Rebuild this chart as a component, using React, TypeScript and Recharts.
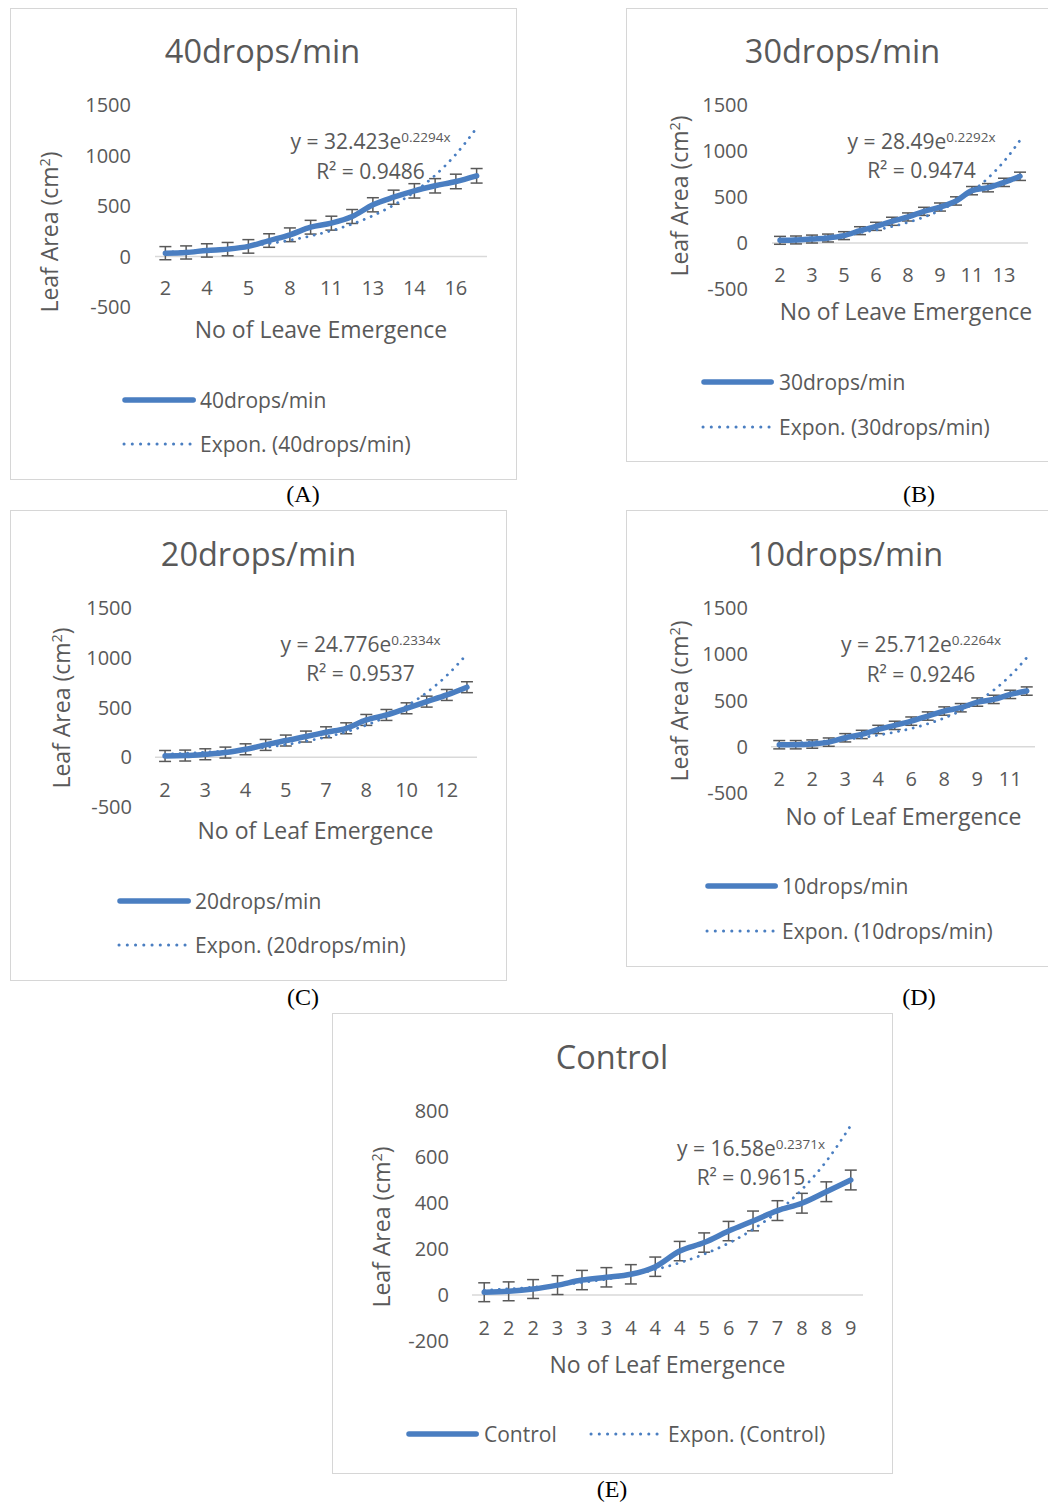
import React from 'react';
import { LineChart, Line, XAxis, YAxis, ErrorBar, ReferenceLine } from 'recharts';

// ---------- Data ----------
const labelsA = ['2', '3', '4', '4', '5', '7', '8', '10', '11', '12', '13', '13', '14', '15', '16', '17'];
const areaA = [33, 40, 60, 73, 100, 158, 215, 290, 330, 396, 512, 587, 650, 700, 743, 799];
const errA = [65, 65, 66, 66, 67, 67, 68, 68, 69, 69, 70, 70, 71, 71, 72, 72];
const trendA = [40.8, 51.3, 64.5, 81.2, 102.1, 128.4, 161.5, 203.1, 255.5, 321.3, 404.2, 508.4, 639.4, 804.3, 1011.6, 1272.4];

const labelsB = ['2', '3', '3', '4', '5', '5', '6', '7', '8', '8', '9', '10', '11', '12', '13', '14'];
const areaB = [29, 33, 43, 54, 80, 134, 181, 236, 283, 344, 391, 457, 569, 601, 659, 725];
const errB = [43, 43, 43, 43, 43, 43, 44, 44, 44, 44, 44, 45, 45, 45, 45, 45];
const trendB = [35.8, 45.1, 56.7, 71.3, 89.6, 112.7, 141.8, 178.3, 224.2, 282.0, 354.6, 446.0, 560.9, 705.4, 887.1, 1115.6];

const labelsC = ['2', '2', '3', '3', '4', '4', '5', '6', '7', '7', '8', '9', '10', '11', '12', '13'];
const areaC = [13, 17, 30, 47, 80, 124, 168, 208, 251, 291, 375, 425, 492, 559, 626, 704];
const errC = [55, 55, 55, 55, 55, 55, 55, 55, 55, 55, 55, 55, 55, 55, 55, 55];
const trendC = [31.3, 39.5, 49.9, 63.0, 79.6, 100.5, 126.9, 160.3, 202.4, 255.6, 322.8, 407.7, 514.9, 650.2, 821.2, 1037.1];

const labelsD = ['2', '2', '2', '3', '3', '4', '4', '5', '6', '7', '8', '8', '9', '10', '11', '12'];
const areaD = [22, 22, 29, 50, 97, 133, 187, 231, 277, 332, 386, 422, 483, 512, 566, 602];
const errD = [45, 45, 45, 45, 45, 45, 45, 45, 45, 45, 45, 45, 45, 45, 45, 45];
const trendD = [32.2, 40.4, 50.7, 63.6, 79.8, 100.1, 125.5, 157.4, 197.4, 247.6, 310.5, 389.4, 488.3, 612.4, 768.0, 963.1];

const labelsE = ['2', '2', '2', '3', '3', '3', '4', '4', '4', '5', '6', '7', '7', '8', '8', '9'];
const areaE = [12, 16, 26, 43, 65, 77, 90, 123, 191, 228, 278, 322, 367, 399, 449, 500];
const errE = [41, 41, 41, 41, 42, 42, 42, 42, 42, 42, 42, 43, 43, 43, 43, 43];
const trendE = [21.0, 26.6, 33.8, 42.8, 54.3, 68.8, 87.2, 110.6, 140.2, 177.7, 225.2, 285.5, 361.9, 458.8, 581.6, 737.2];

const yTicksBig = [-500, 0, 500, 1000, 1500];
const yTicksSmall = [-200, 0, 200, 400, 600, 800];

// ---------- Styling ----------
const FONT = '"Open Sans", "Noto Sans", sans-serif';
const TEXT = '#595959';
const BLUE = '#4A7EC1';
const BORDER = '#d6d6d6';

function build(labels: string[], area: number[], err: number[], trend: number[]) {
  return labels.map((l, i) => ({ idx: i + 1, label: l, area: area[i], err: err[i], trend: trend[i] }));
}

type Txt = { x: number; y: number };

interface PanelCfg {
  box: { l: number; t: number; r: number; b: number };
  title: string;
  titlePos: Txt;
  plot: { l: number; r: number; t: number; b: number };
  yDomain: [number, number];
  yTicks: number[];
  yTickRight: number;
  yTitlePos: Txt;
  xLabelY: number;
  xTicks: number[];
  xTitle: string;
  xTitlePos: Txt;
  labels: string[];
  data: any[];
  eq: { a: string; b: string; r2: string; x: number; y1: number; y2: number };
  legend: {
    solid: { x1: number; x2: number; y: number; tx: number };
    dotted: { x1: number; x2: number; y: number; tx: number };
  };
  name: string;
  caption: string;
  capPos: Txt;
}

const Centered: React.FC<{ x: number; y: number; size: number; color?: string; family?: string; children: React.ReactNode }> = ({ x, y, size, color, family, children }) => (
  <div
    style={{
      position: 'absolute',
      left: x,
      top: y,
      transform: 'translate(-50%, -50%)',
      fontSize: size,
      lineHeight: 1,
      fontFamily: family || FONT,
      color: color || TEXT,
      whiteSpace: 'nowrap',
    }}
  >
    {children}
  </div>
);

const LeftText: React.FC<{ x: number; y: number; size: number; children: React.ReactNode }> = ({ x, y, size, children }) => (
  <div
    style={{
      position: 'absolute',
      left: x,
      top: y,
      transform: 'translate(0, -50%)',
      fontSize: size,
      lineHeight: 1,
      fontFamily: FONT,
      color: TEXT,
      whiteSpace: 'nowrap',
    }}
  >
    {children}
  </div>
);

const Sup: React.FC<{ size: number; children: React.ReactNode }> = ({ size, children }) => (
  <span style={{ fontSize: size, position: 'relative', top: -size * 0.55, lineHeight: 0 }}>{children}</span>
);

const LegendSwatch: React.FC<{ x1: number; x2: number; y: number; dotted?: boolean }> = ({ x1, x2, y, dotted }) => {
  const len = x2 - x1;
  const gap = len / 8;
  return (
    <svg style={{ position: 'absolute', left: x1 - 4, top: y - 5, overflow: 'visible' }} width={len + 8} height={10}>
      <line
        x1={4}
        x2={len + 4.2}
        y1={5}
        y2={5}
        stroke={BLUE}
        strokeWidth={dotted ? 3 : 5.5}
        strokeLinecap="round"
        strokeDasharray={dotted ? `0.1 ${gap - 0.1}` : undefined}
      />
    </svg>
  );
};

const Panel: React.FC<{ cfg: PanelCfg }> = ({ cfg }) => {
  const { plot } = cfg;
  const padL = 130;
  const padT = 15;
  const padR = 15;
  const xAxisH = 30;
  const chartLeft = plot.l - padL;
  const chartTop = plot.t - padT;
  const width = plot.r - chartLeft + padR;
  const height = plot.b - chartTop + xAxisH;
  const n = cfg.data.length;
  const tickDy = cfg.xLabelY - plot.b;

  const renderTick = (props: any) => {
    const { x, y, payload } = props;
    return (
      <text
        x={x}
        y={y + tickDy}
        textAnchor="middle"
        dominantBaseline="central"
        fill={TEXT}
        fontSize={20}
        fontFamily={FONT}
      >
        {cfg.labels[payload.value - 1]}
      </text>
    );
  };

  return (
    <>
      <div
        style={{
          position: 'absolute',
          left: cfg.box.l,
          top: cfg.box.t,
          width: cfg.box.r - cfg.box.l,
          height: cfg.box.b - cfg.box.t,
          border: `1.5px solid ${BORDER}`,
          boxSizing: 'border-box',
          background: '#fff',
        }}
      />
      <Centered x={cfg.titlePos.x} y={cfg.titlePos.y} size={32.5}>
        {cfg.title}
      </Centered>
      <div style={{ position: 'absolute', left: chartLeft, top: chartTop }}>
        <LineChart width={width} height={height} data={cfg.data} margin={{ top: padT, right: padR, left: 0, bottom: 0 }}>
          <XAxis
            dataKey="idx"
            type="number"
            domain={[0.5, n + 0.5]}
            ticks={cfg.xTicks}
            allowDataOverflow
            axisLine={false}
            tickLine={false}
            tickSize={0}
            tickMargin={0}
            height={xAxisH}
            interval={0}
            tick={renderTick}
          />
          <YAxis
            type="number"
            domain={cfg.yDomain}
            ticks={cfg.yTicks}
            allowDataOverflow
            axisLine={false}
            tickLine={false}
            tickSize={0}
            tickMargin={plot.l - cfg.yTickRight}
            width={padL}
            interval={0}
            tick={{ fill: TEXT, fontSize: 20, fontFamily: FONT }}
          />
          <ReferenceLine y={0} stroke="#d9d9d9" strokeWidth={1.5} />
          <Line
            dataKey="area"
            stroke="none"
            dot={false}
            activeDot={false}
            isAnimationActive={false}
            legendType="none"
          >
            <ErrorBar dataKey="err" direction="y" width={6} stroke={TEXT} strokeWidth={1.5} />
          </Line>
          <Line
            dataKey="trend"
            type="monotone"
            stroke={BLUE}
            strokeWidth={2.8}
            strokeLinecap="round"
            strokeDasharray="0.1 7.4"
            dot={false}
            activeDot={false}
            isAnimationActive={false}
          />
          <Line
            dataKey="area"
            type="monotone"
            stroke={BLUE}
            strokeWidth={5.5}
            strokeLinecap="round"
            strokeLinejoin="round"
            dot={false}
            activeDot={false}
            isAnimationActive={false}
          />
        </LineChart>
      </div>
      <Centered x={cfg.yTitlePos.x} y={cfg.yTitlePos.y} size={23}>
        <div style={{ transform: 'rotate(-90deg)' }}>
          Leaf Area (cm<Sup size={14.5}>2</Sup>)
        </div>
      </Centered>
      <Centered x={cfg.xTitlePos.x} y={cfg.xTitlePos.y} size={23}>
        {cfg.xTitle}
      </Centered>
      <Centered x={cfg.eq.x} y={cfg.eq.y1} size={21}>
        y = {cfg.eq.a}e<Sup size={13.5}>{cfg.eq.b}</Sup>
      </Centered>
      <Centered x={cfg.eq.x} y={cfg.eq.y2} size={21}>
        R² = {cfg.eq.r2}
      </Centered>
      <LegendSwatch x1={cfg.legend.solid.x1} x2={cfg.legend.solid.x2} y={cfg.legend.solid.y} />
      <LeftText x={cfg.legend.solid.tx} y={cfg.legend.solid.y} size={21}>
        {cfg.name}
      </LeftText>
      <LegendSwatch x1={cfg.legend.dotted.x1} x2={cfg.legend.dotted.x2} y={cfg.legend.dotted.y} dotted />
      <LeftText x={cfg.legend.dotted.tx} y={cfg.legend.dotted.y} size={21}>
        Expon. ({cfg.name})
      </LeftText>
      <Centered x={cfg.capPos.x} y={cfg.capPos.y} size={24} color="#000" family='"Liberation Serif", "Times New Roman", serif'>
        {cfg.caption}
      </Centered>
    </>
  );
};

const oddTicks = [1, 3, 5, 7, 9, 11, 13, 15];
const allTicks = [1, 2, 3, 4, 5, 6, 7, 8, 9, 10, 11, 12, 13, 14, 15, 16];

export default function App() {
  const panels: PanelCfg[] = [
    {
      box: { l: 10, t: 8, r: 517, b: 480 },
      title: '40drops/min',
      titlePos: { x: 262.5, y: 51 },
      plot: { l: 155, r: 487, t: 105, b: 307 },
      yDomain: [-500, 1500],
      yTicks: yTicksBig,
      yTickRight: 131,
      yTitlePos: { x: 49, y: 232 },
      xLabelY: 287,
      xTicks: oddTicks,
      xTitle: 'No of Leave Emergence',
      xTitlePos: { x: 321, y: 329 },
      labels: labelsA,
      data: build(labelsA, areaA, errA, trendA),
      eq: { a: '32.423', b: '0.2294x', r2: '0.9486', x: 370.5, y1: 141, y2: 171 },
      legend: {
        solid: { x1: 125, x2: 193, y: 400, tx: 200 },
        dotted: { x1: 124, x2: 190, y: 444, tx: 200 },
      },
      name: '40drops/min',
      caption: '(A)',
      capPos: { x: 303, y: 494 },
    },
    {
      box: { l: 626, t: 8, r: 1060, b: 462 },
      title: '30drops/min',
      titlePos: { x: 842.5, y: 51 },
      plot: { l: 772, r: 1028, t: 105, b: 289 },
      yDomain: [-500, 1500],
      yTicks: yTicksBig,
      yTickRight: 748,
      yTitlePos: { x: 679, y: 196 },
      xLabelY: 274,
      xTicks: oddTicks,
      xTitle: 'No of Leave Emergence',
      xTitlePos: { x: 906, y: 311 },
      labels: labelsB,
      data: build(labelsB, areaB, errB, trendB),
      eq: { a: '28.49', b: '0.2292x', r2: '0.9474', x: 921.5, y1: 141, y2: 170 },
      legend: {
        solid: { x1: 704, x2: 771, y: 382, tx: 779 },
        dotted: { x1: 703, x2: 769, y: 427, tx: 779 },
      },
      name: '30drops/min',
      caption: '(B)',
      capPos: { x: 919, y: 494 },
    },
    {
      box: { l: 10, t: 510, r: 507, b: 981 },
      title: '20drops/min',
      titlePos: { x: 258.5, y: 554 },
      plot: { l: 155, r: 477, t: 608, b: 807 },
      yDomain: [-500, 1500],
      yTicks: yTicksBig,
      yTickRight: 132,
      yTitlePos: { x: 61, y: 708 },
      xLabelY: 789,
      xTicks: oddTicks,
      xTitle: 'No of Leaf Emergence',
      xTitlePos: { x: 315.5, y: 830 },
      labels: labelsC,
      data: build(labelsC, areaC, errC, trendC),
      eq: { a: '24.776', b: '0.2334x', r2: '0.9537', x: 360.5, y1: 644, y2: 673 },
      legend: {
        solid: { x1: 120, x2: 188, y: 901, tx: 195 },
        dotted: { x1: 119, x2: 185, y: 945, tx: 195 },
      },
      name: '20drops/min',
      caption: '(C)',
      capPos: { x: 303, y: 997 },
    },
    {
      box: { l: 626, t: 510, r: 1060, b: 967 },
      title: '10drops/min',
      titlePos: { x: 845.5, y: 554 },
      plot: { l: 771, r: 1035, t: 608, b: 793 },
      yDomain: [-500, 1500],
      yTicks: yTicksBig,
      yTickRight: 748,
      yTitlePos: { x: 679, y: 701 },
      xLabelY: 778,
      xTicks: oddTicks,
      xTitle: 'No of Leaf Emergence',
      xTitlePos: { x: 903.5, y: 816 },
      labels: labelsD,
      data: build(labelsD, areaD, errD, trendD),
      eq: { a: '25.712', b: '0.2264x', r2: '0.9246', x: 921, y1: 644, y2: 674 },
      legend: {
        solid: { x1: 708, x2: 775, y: 886, tx: 782 },
        dotted: { x1: 707, x2: 773, y: 931, tx: 782 },
      },
      name: '10drops/min',
      caption: '(D)',
      capPos: { x: 919, y: 997 },
    },
    {
      box: { l: 332, t: 1013, r: 893, b: 1474 },
      title: 'Control',
      titlePos: { x: 612, y: 1057 },
      plot: { l: 472, r: 863, t: 1111, b: 1341 },
      yDomain: [-200, 800],
      yTicks: yTicksSmall,
      yTickRight: 449,
      yTitlePos: { x: 381, y: 1227 },
      xLabelY: 1327,
      xTicks: allTicks,
      xTitle: 'No of Leaf Emergence',
      xTitlePos: { x: 667.5, y: 1364 },
      labels: labelsE,
      data: build(labelsE, areaE, errE, trendE),
      eq: { a: '16.58', b: '0.2371x', r2: '0.9615', x: 751, y1: 1148, y2: 1177 },
      legend: {
        solid: { x1: 409, x2: 476, y: 1434, tx: 484 },
        dotted: { x1: 591, x2: 657, y: 1434, tx: 668 },
      },
      name: 'Control',
      caption: '(E)',
      capPos: { x: 612, y: 1489 },
    },
  ];

  return (
    <div style={{ position: 'absolute', left: 0, top: 0, width: 1048, height: 1502, background: '#fff', overflow: 'hidden' }}>
      {panels.map((p) => (
        <Panel key={p.caption} cfg={p} />
      ))}
    </div>
  );
}
